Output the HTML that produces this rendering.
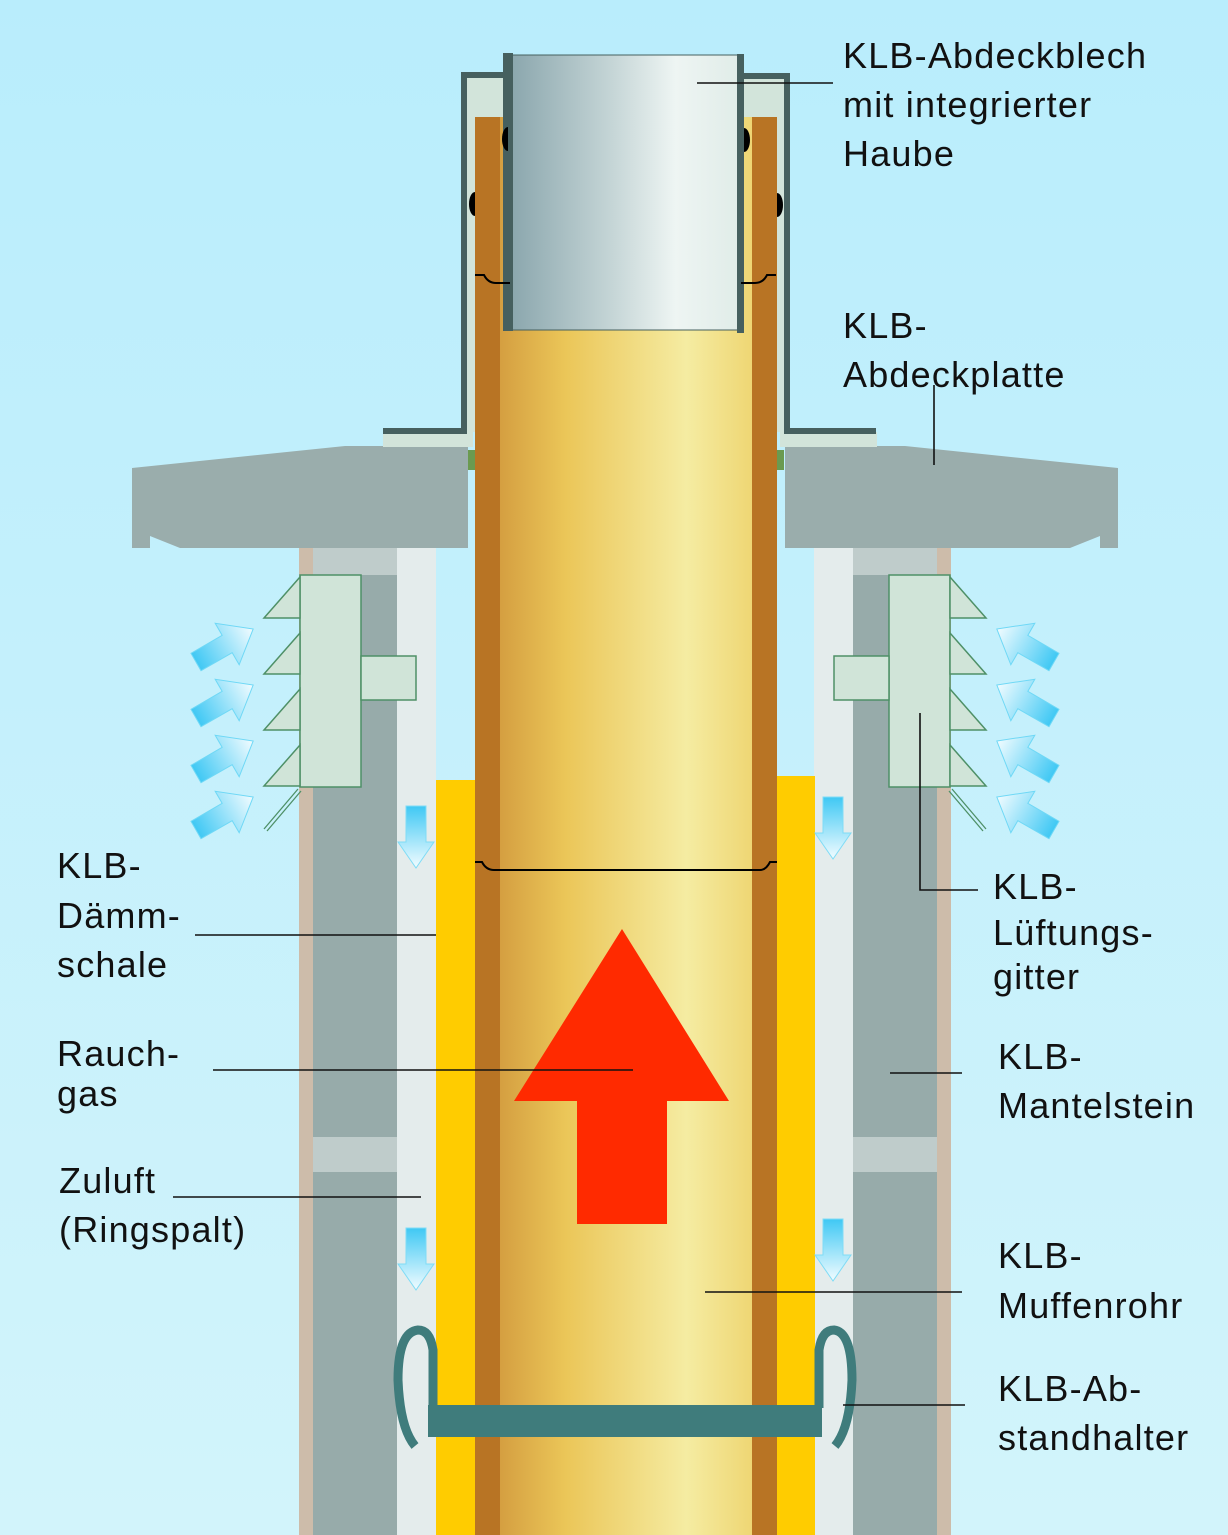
<!DOCTYPE html>
<html><head><meta charset="utf-8"><style>
html,body{margin:0;padding:0;}
svg{display:block}
text{font-family:"Liberation Sans",sans-serif;font-size:36px;fill:#111;letter-spacing:1.2px;}
</style></head><body>
<svg width="1228" height="1535" viewBox="0 0 1228 1535" xmlns="http://www.w3.org/2000/svg">
<defs>
<linearGradient id="bg" x1="0" y1="0" x2="0" y2="1"><stop offset="0" stop-color="#b9edfc"/><stop offset="1" stop-color="#d2f4fb"/></linearGradient>
<linearGradient id="pipe" x1="0" y1="0" x2="1" y2="0"><stop offset="0" stop-color="#cc9038"/><stop offset="0.3" stop-color="#ebc658"/><stop offset="0.7" stop-color="#f5eca2"/><stop offset="1" stop-color="#ecce62"/></linearGradient>
<linearGradient id="steel" x1="0" y1="0" x2="1" y2="0"><stop offset="0" stop-color="#8aa6ad"/><stop offset="0.45" stop-color="#c6d6d7"/><stop offset="0.72" stop-color="#eef5f3"/><stop offset="1" stop-color="#e0ece8"/></linearGradient>
<linearGradient id="ba" x1="0" y1="0" x2="1" y2="0"><stop offset="0" stop-color="#3fc8f4"/><stop offset="1" stop-color="#f2fcff"/></linearGradient>
<linearGradient id="bd" x1="0" y1="0" x2="0" y2="1"><stop offset="0" stop-color="#3fc8f4"/><stop offset="1" stop-color="#f2fcff"/></linearGradient>
<g id="wall">
<rect x="299" y="548" width="14" height="987" fill="#cdbcaa"/>
<rect x="313" y="548" width="84" height="987" fill="#97abaa"/>
<rect x="313" y="548" width="84" height="27" fill="#bfcccb"/>
<rect x="313" y="1137" width="84" height="35" fill="#bfcccb"/>
<rect x="397" y="548" width="39" height="987" fill="#e4ecec"/>
</g>
<g id="ra"><path d="M0,-10 L36,-10 L36,-24 L66,0 L36,24 L36,10 L0,10 Z" fill="url(#ba)" stroke="#6fd8f6" stroke-width="1"/></g>
<g id="da"><path d="M-10,0 L10,0 L10,36 L18,36 L0,62 L-18,36 L-10,36 Z" fill="url(#bd)" stroke="#7fdcf6" stroke-width="1"/></g>
<g id="grid">
<rect x="300" y="575" width="61" height="212" fill="#d0e4d8" stroke="#4e9067" stroke-width="1.5"/>
<rect x="361" y="656" width="55" height="44" fill="#d0e4d8" stroke="#4e9067" stroke-width="1.5"/>
<path d="M300,577 L264,618 L300,618 Z M300,633 L264,674 L300,674 Z M300,689 L264,730 L300,730 Z M300,745 L264,786 L300,786 Z" fill="#d0e4d8" stroke="#4e9067" stroke-width="1.5"/>
<path d="M298,789 L264,829 M301,791 L267,831" stroke="#4e9067" stroke-width="1.3" fill="none"/>
<use href="#ra" transform="translate(196,662) rotate(-30)"/>
<use href="#ra" transform="translate(196,718) rotate(-30)"/>
<use href="#ra" transform="translate(196,774) rotate(-30)"/>
<use href="#ra" transform="translate(196,830) rotate(-30)"/>
</g>
</defs>
<rect width="1228" height="1535" fill="url(#bg)"/>
<use href="#wall"/>
<use href="#wall" transform="translate(1250,0) scale(-1,1)"/>
<rect x="436" y="780" width="39" height="755" fill="#ffcc00"/>
<rect x="777" y="776" width="38" height="759" fill="#ffcc00"/>
<rect x="475" y="117" width="302" height="1418" fill="url(#pipe)"/>
<rect x="475" y="117" width="25" height="1418" fill="#b87424"/>
<rect x="752" y="117" width="25" height="1418" fill="#b87424"/>
<path d="M132,468 L345,446 L468,446 L468,548 L180,548 L150,536 L150,548 L132,548 Z" fill="#9aadac"/>
<path d="M1118,468 L905,446 L785,446 L785,548 L1070,548 L1100,536 L1100,548 L1118,548 Z" fill="#9aadac"/>
<rect x="468" y="450" width="7" height="20" fill="#6a9a50"/>
<rect x="777" y="450" width="7" height="20" fill="#6a9a50"/>
<rect x="383" y="432" width="90" height="15" fill="#d2e4da"/>
<rect x="780" y="432" width="97" height="15" fill="#d2e4da"/>
<rect x="464" y="75" width="11" height="357" fill="#d2e4da"/>
<rect x="464" y="75" width="42" height="42" fill="#d2e4da"/>
<rect x="777" y="76" width="10" height="356" fill="#d2e4da"/>
<rect x="742" y="76" width="45" height="41" fill="#d2e4da"/>
<path d="M383,431 L464,431 L464,75 L506,75" fill="none" stroke="#46605f" stroke-width="6"/>
<path d="M876,431 L787,431 L787,76 L742,76" fill="none" stroke="#46605f" stroke-width="6"/>
<rect x="510" y="55" width="230" height="275" fill="url(#steel)" stroke="#46605f" stroke-width="1"/>
<rect x="503" y="53" width="10" height="278" fill="#46605f"/>
<rect x="737" y="54" width="7" height="279" fill="#46605f"/>
<path d="M508,127 A6,12 0 0 0 508,151 Z" fill="#000"/>
<path d="M475,192 A6,12 0 0 0 475,216 Z" fill="#000"/>
<path d="M744,128 A6,12 0 0 1 744,152 Z" fill="#000"/>
<path d="M777,193 A6,12 0 0 1 777,217 Z" fill="#000"/>
<path d="M475,275 L484,275 Q488,283 496,283 L510,283" fill="none" stroke="#000" stroke-width="2"/>
<path d="M776,275 L767,275 Q763,283 755,283 L741,283" fill="none" stroke="#000" stroke-width="2"/>
<path d="M475,862 L482,862 Q486,870 494,870 L760,870 Q766,870 770,862 L777,862" fill="none" stroke="#000" stroke-width="2"/>
<use href="#grid"/>
<use href="#grid" transform="translate(1250,0) scale(-1,1)"/>
<use href="#da" transform="translate(416,806)"/>
<use href="#da" transform="translate(833,797)"/>
<use href="#da" transform="translate(416,1228)"/>
<use href="#da" transform="translate(833,1219)"/>
<path d="M622,929 L729,1101 L667,1101 L667,1224 L577,1224 L577,1101 L514,1101 Z" fill="#ff2a00"/>
<rect x="428" y="1405" width="394" height="32" fill="#3f7c7c"/>
<path d="M433,1408 L433,1350 Q430,1330 418,1330 Q398,1332 398,1380 Q400,1428 415,1446" fill="none" stroke="#3f7c7c" stroke-width="9"/>
<path d="M819,1408 L819,1350 Q822,1330 834,1330 Q852,1332 852,1380 Q850,1428 835,1446" fill="none" stroke="#3f7c7c" stroke-width="9"/>
<g stroke="#111" stroke-width="1.6" fill="none">
<path d="M697,83 L833,83"/>
<path d="M934,385 L934,465"/>
<path d="M195,935 L436,935"/>
<path d="M213,1070 L633,1070"/>
<path d="M173,1197 L421,1197"/>
<path d="M920,713 L920,890 L978,890"/>
<path d="M890,1073 L962,1073"/>
<path d="M705,1292 L962,1292"/>
<path d="M843,1405 L965,1405"/>
</g>
<text x="843" y="68">KLB-Abdeckblech</text>
<text x="843" y="117">mit integrierter</text>
<text x="843" y="166">Haube</text>
<text x="843" y="338">KLB-</text>
<text x="843" y="387">Abdeckplatte</text>
<text x="57" y="878">KLB-</text>
<text x="57" y="928">Dämm-</text>
<text x="57" y="977">schale</text>
<text x="57" y="1066">Rauch-</text>
<text x="57" y="1106">gas</text>
<text x="59" y="1193">Zuluft</text>
<text x="59" y="1242">(Ringspalt)</text>
<text x="993" y="899">KLB-</text>
<text x="993" y="945">Lüftungs-</text>
<text x="993" y="989">gitter</text>
<text x="998" y="1069">KLB-</text>
<text x="998" y="1118">Mantelstein</text>
<text x="998" y="1268">KLB-</text>
<text x="998" y="1318">Muffenrohr</text>
<text x="998" y="1401">KLB-Ab-</text>
<text x="998" y="1450">standhalter</text>
</svg>
</body></html>
